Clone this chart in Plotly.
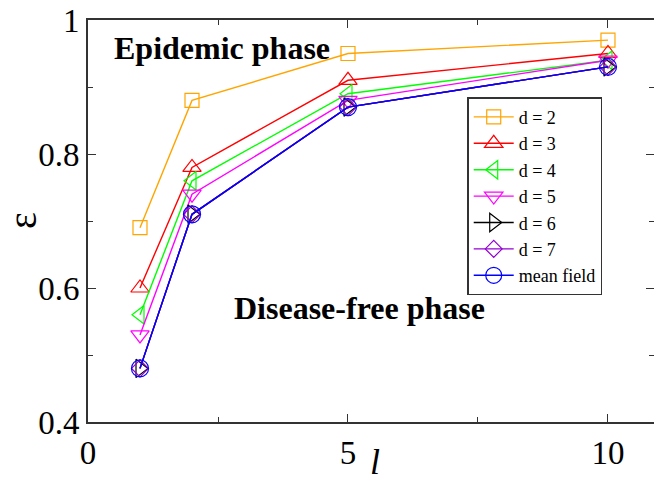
import plotly.graph_objects as go

l_values = [1, 2, 5, 10]
series_names = ["d = 2", "d = 3", "d = 4", "d = 5", "d = 6", "d = 7", "mean field"]
eps_d2 = [0.69, 0.88, 0.95, 0.97]
eps_d3 = [0.60, 0.78, 0.91, 0.95]
eps_d4 = [0.56, 0.76, 0.89, 0.94]
eps_d5 = [0.53, 0.74, 0.88, 0.94]
eps_d6 = [0.48, 0.71, 0.87, 0.93]
eps_d7 = [0.48, 0.71, 0.87, 0.93]
eps_mf = [0.48, 0.71, 0.87, 0.93]

series_values = [eps_d2, eps_d3, eps_d4, eps_d5, eps_d6, eps_d7, eps_mf]
colors = ["#FFA500", "#FF0000", "#00FF00", "#FF00FF", "#000000", "#9400D3", "#0000FF"]
symbols = ["square-open", "triangle-up-open", "triangle-left-open", "triangle-down-open",
           "triangle-right-open", "diamond-open", "circle-open"]
marker_sizes = [14, 16, 16, 16, 16, 13, 17]

fig = go.Figure()
for name, vals, c, s, ms in zip(series_names, series_values, colors, symbols, marker_sizes):
    fig.add_trace(go.Scatter(
        x=l_values, y=vals, name=name, mode="lines+markers",
        line=dict(color=c, width=1.4),
        marker=dict(symbol=s, size=ms, color=c, line=dict(color=c, width=1.2)),
    ))

font_family = "Liberation Serif"
tick_font = dict(family=font_family, size=33, color="black")
fig.update_layout(
    width=654, height=485,
    margin=dict(l=88, r=0, t=20, b=63, pad=0, autoexpand=False),
    paper_bgcolor="white", plot_bgcolor="white",
    font=dict(family=font_family, color="black", size=24),
    showlegend=True,
    legend=dict(
        x=0.67, y=0.808, xanchor="left", yanchor="top",
        bgcolor="white", bordercolor="#333333", borderwidth=1.5,
        font=dict(family=font_family, size=18, color="black"),
        itemwidth=40, tracegroupgap=0,
    ),
    xaxis=dict(
        range=[0, 10.885], tickvals=[0, 5, 10], ticktext=["0", "5", "10"],
        tickfont=tick_font, automargin=False,
        ticks="inside", ticklen=8, tickwidth=1, tickcolor="#333333",
        showline=True, linecolor="#333333", linewidth=2, mirror="ticks",
        showgrid=False, zeroline=False,
        minor=dict(tickvals=[2.5, 7.5], ticks="inside", ticklen=5, tickcolor="#333333"),
    ),
    yaxis=dict(
        range=[0.4, 1.0], tickvals=[0.4, 0.6, 0.8, 1.0], ticktext=["0.4", "0.6", "0.8", "1"],
        tickfont=tick_font, automargin=False,
        ticks="inside", ticklen=8, tickwidth=1, tickcolor="#333333",
        showline=True, linecolor="#333333", linewidth=2, mirror="ticks",
        showgrid=False, zeroline=False,
        minor=dict(tickvals=[0.5, 0.7, 0.9], ticks="inside", ticklen=5, tickcolor="#333333"),
    ),
    annotations=[
        dict(text="<b>Epidemic phase</b>", x=0.47, y=0.958, xref="x", yref="y",
             xanchor="left", yanchor="middle", showarrow=False,
             font=dict(family=font_family, size=32, color="black")),
        dict(text="<b>Disease-free phase</b>", x=2.77, y=0.570, xref="x", yref="y",
             xanchor="left", yanchor="middle", showarrow=False,
             font=dict(family=font_family, size=32, color="black")),
        dict(text="ε", x=-0.115, y=0.5025, xref="paper", yref="paper", textangle=-90,
             xanchor="center", yanchor="middle", showarrow=False,
             font=dict(family=font_family, size=40, color="black")),
        dict(text="<i>l</i>", x=0.507, y=-0.155, xref="paper", yref="paper",
             xanchor="center", yanchor="bottom", showarrow=False,
             font=dict(family=font_family, size=36, color="black")),
    ],
)

fig.write_html("out.html", config={"displayModeBar": False},
               post_script="document.body.style.margin='0';")
